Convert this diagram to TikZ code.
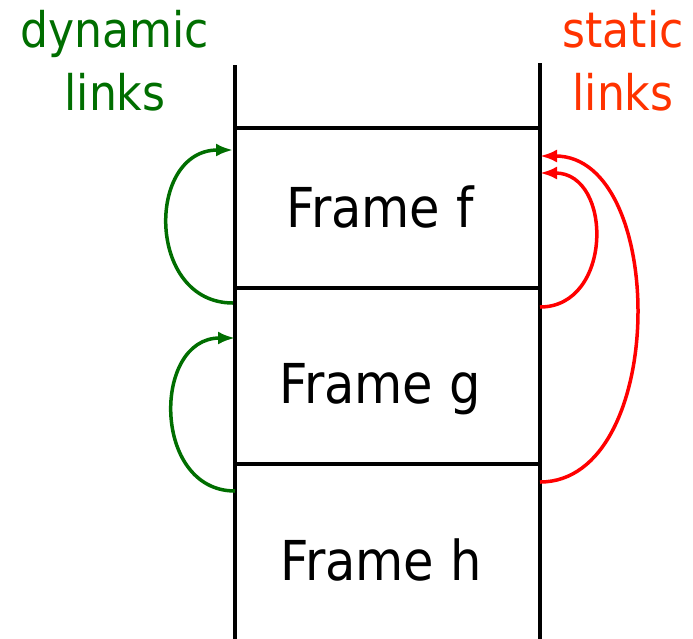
\documentclass[tikz,border=0pt]{standalone}
\usepackage{fontspec}
\setmainfont{DejaVu Sans Condensed}
\usetikzlibrary{arrows.meta}
\definecolor{dyngreen}{RGB}{0,110,0}
\definecolor{stattext}{RGB}{255,51,0}
\definecolor{statarrow}{RGB}{255,0,0}
\begin{document}
\begin{tikzpicture}[x=1pt,y=-1pt,
  wall/.style={line width=3.5pt,line cap=rect},
  dynlink/.style={draw=dyngreen,line width=3.5pt,-{Latex[length=17pt,width=13pt]}},
  statlink/.style={draw=statarrow,line width=3.5pt,-{Latex[length=17pt,width=13pt]}},
  framelabel/.style={font=\fontsize{55}{66}\selectfont,anchor=base,inner sep=0pt},
  linklabel/.style={font=\fontsize{49}{63}\selectfont,align=center,inner sep=0pt}]
\useasboundingbox (0,0) rectangle (693,638);

% stack walls and frame boundaries
\coordinate (ltop) at (235,67);
\coordinate (rtop) at (540,65);
\coordinate (lbot) at (235,640);
\coordinate (rbot) at (540,640);
\coordinate (fnw) at (235,128);
\coordinate (fne) at (540,128);
\coordinate (gnw) at (235,288);
\coordinate (gne) at (540,288);
\coordinate (hnw) at (235,464);
\coordinate (hne) at (540,464);

\draw[wall] (ltop) -- (lbot);
\draw[wall] (rtop) -- (rbot);
\draw[wall] (fnw) -- (fne);
\draw[wall] (gnw) -- (gne);
\draw[wall] (hnw) -- (hne);

% frame names
\node[framelabel] (f) at (380,227) {Frame f};
\node[framelabel] (g) at (380,403) {Frame g};
\node[framelabel] (h) at (381,580) {Frame h};

% column headings (base anchor sits on the last line)
\node[linklabel,text=dyngreen,anchor=base] (dyn) at (115,110) {dynamic\\links};
\node[linklabel,text=stattext,anchor=base] (stat) at (623,110) {static\\links};

% link end points on the walls
\coordinate (dgs) at (233,303);
\coordinate (dfe) at (233,150);
\coordinate (dhs) at (235,491);
\coordinate (dge) at (235,338);
\coordinate (sgs) at (540,307);
\coordinate (sfe1) at (540,173);
\coordinate (shs) at (540,482);
\coordinate (sfe2) at (540,156);

% dynamic links
\draw[dynlink] (dgs) .. controls +(-87,0) and +(-87,0) .. (dfe);
\draw[dynlink] (dhs) .. controls +(-83,0) and +(-83,0) .. (dge);

% static links
\draw[statlink] (sgs) .. controls +(73,0) and +(73,0) .. (sfe1);
\draw[statlink] (shs) .. controls +(128,0) and +(128,0) .. (sfe2);
\end{tikzpicture}
\end{document}
